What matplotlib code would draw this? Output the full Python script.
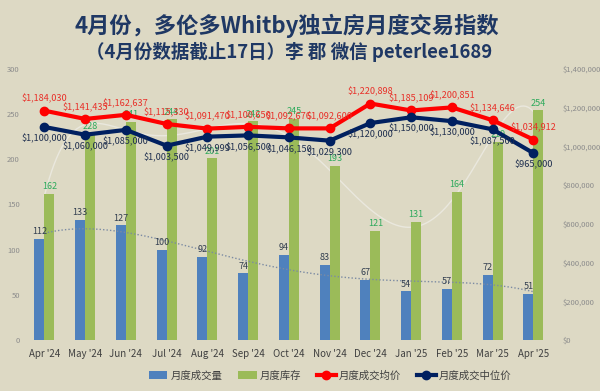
import matplotlib.pyplot as plt
import numpy as np

plt.rcParams['font.family'] = ['Noto Sans CJK SC', 'DejaVu Sans']

# Monthly data
months = ["Apr '24", "May '24", "Jun '24", "Jul '24", "Aug '24", "Sep '24", "Oct '24",
          "Nov '24", "Dec '24", "Jan '25", "Feb '25", "Mar '25", "Apr '25"]
sales = [112, 133, 127, 100, 92, 74, 94, 83, 67, 54, 57, 72, 51]
inventory = [162, 228, 241, 244, 201, 242, 245, 193, 121, 131, 164, 219, 254]
avg_price = [1184030, 1141435, 1162637, 1115330, 1091470, 1100650, 1092676,
             1092600, 1220898, 1185109, 1200851, 1134646, 1034912]
median_price = [1100000, 1060000, 1085000, 1003500, 1049999, 1056500, 1046150,
                1029300, 1120000, 1150000, 1130000, 1087500, 965000]

bg = '#DDD9C4'
blue = '#4F81BD'
green = '#9BBB59'
red = '#FF0000'
navy = '#002060'

fig = plt.figure(figsize=(6, 3.91), dpi=100, facecolor=bg)
ax = fig.add_axes([0.04, 0.13, 0.883, 0.694])
ax.set_facecolor(bg)
ax2 = ax.twinx()

x = np.arange(len(months))
w = 0.245
ax.bar(x - w / 2, sales, w, color=blue, label='月度成交量', zorder=2)
ax.bar(x + w / 2, inventory, w, color=green, label='月度库存', zorder=2)

# trendlines (polynomial fits, like Excel)
xs = np.linspace(0, len(months) - 1, 200)
p_inv = np.polyfit(x, inventory, 6)
ax.plot(xs, np.polyval(p_inv, xs), color='#EAE8DE', lw=1.0, zorder=1.5)
p_sales = np.polyfit(x, sales, 4)
ax.plot(xs, np.polyval(p_sales, xs), color='#7C8BA3', lw=1.0, ls=(0, (1, 1.5)), zorder=2.5)

for i in range(len(months)):
    ax.text(x[i] - w / 2, sales[i] + 3, str(sales[i]), ha='center', va='bottom',
            fontsize=6.5, color='#333F50', zorder=5)
    ax.text(x[i] + w / 2, inventory[i] + 3, str(inventory[i]), ha='center', va='bottom',
            fontsize=6.5, color='#2EAA5C', zorder=5)

ax.set_ylim(0, 300)
ax.set_yticks(range(0, 301, 50))
ax.set_xlim(-0.5, len(months) - 0.5)
ax.set_xticks(x)
ax.set_xticklabels(months, fontsize=7, color='#404040')

ax2.plot(x, avg_price, color=red, lw=3, marker='o', ms=6, label='月度成交均价', zorder=4)
ax2.plot(x, median_price, color=navy, lw=3, marker='o', ms=6, label='月度成交中位价', zorder=4)
for i in range(len(months)):
    ax2.annotate('${:,}'.format(avg_price[i]), (x[i], avg_price[i]), xytext=(0, 5),
                 textcoords='offset points', ha='center', va='bottom', fontsize=6.6,
                 color='#E8312A', zorder=6)
    ax2.annotate('${:,}'.format(median_price[i]), (x[i], median_price[i]), xytext=(0, -5),
                 textcoords='offset points', ha='center', va='top', fontsize=6.6,
                 color='#1F2F4F', zorder=6)
ax2.set_ylim(0, 1400000)
ax2.set_yticks(range(0, 1400001, 200000))
ax2.set_yticklabels(['${:,}'.format(v) for v in range(0, 1400001, 200000)])

for a in (ax, ax2):
    for s in a.spines.values():
        s.set_visible(False)
    a.tick_params(length=0)
ax.tick_params(axis='y', labelsize=5.5, labelcolor='#8C8C8C', pad=3)
ax2.tick_params(axis='y', labelsize=5.5, labelcolor='#8C8C8C', pad=6)
ax.tick_params(axis='x', pad=6)

fig.text(0.478, 0.933, '4月份，多伦多Whitby独立房月度交易指数', ha='center', va='center',
         fontsize=16, fontweight='bold', color='#1F3864')
fig.text(0.482, 0.866, '（4月份数据截止17日）李 郡 微信 peterlee1689', ha='center', va='center',
         fontsize=13.3, fontweight='bold', color='#1F3864')

h1, l1 = ax.get_legend_handles_labels()
h2, l2 = ax2.get_legend_handles_labels()
fig.legend(h1 + h2, l1 + l2, loc='center', bbox_to_anchor=(0.55, 0.04), ncol=4,
           frameon=False, fontsize=7.5, labelcolor='#404040', handlelength=1.8,
           columnspacing=1.5, handletextpad=0.3)

fig.savefig('out.png', dpi=100, facecolor=bg)
